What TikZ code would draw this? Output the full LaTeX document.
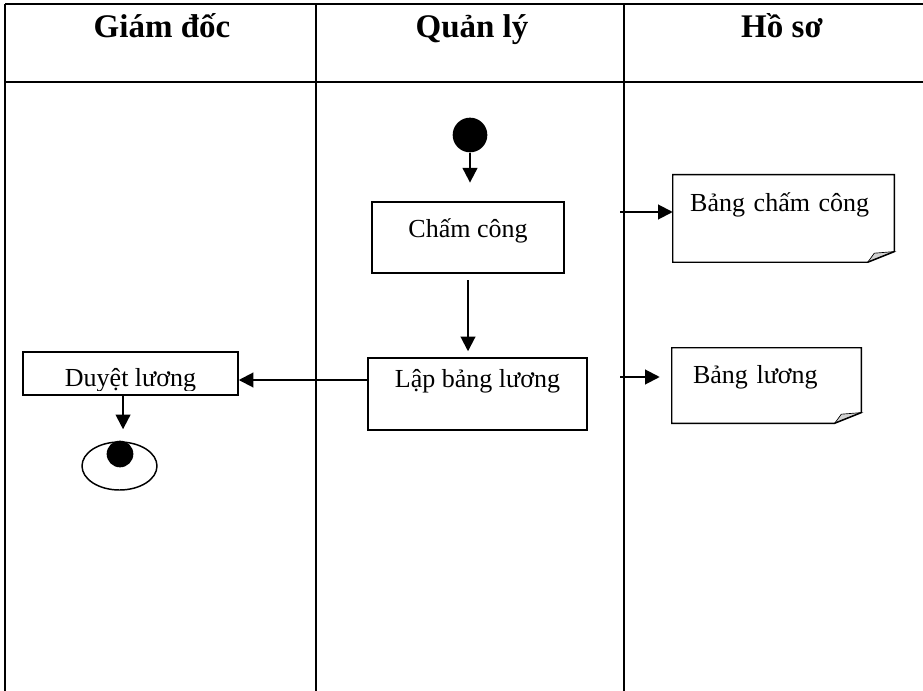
\documentclass[tikz,border=0pt]{standalone}
\usepackage{fontspec}
\setmainfont{Liberation Serif}
\usetikzlibrary{arrows.meta,shapes.geometric,calc}

\tikzset{
  lane/.style={line width=1.8pt},
  head/.style={font=\fontsize{24.75pt}{28pt}\selectfont\bfseries, anchor=base, inner sep=0pt},
  body/.style={font=\fontsize{19.5pt}{23pt}\selectfont},
  act/.style={body, draw, line width=1.1pt, rectangle, inner sep=0pt},
  doc/.style={body, rectangle, inner ysep=0pt, inner xsep=15.75pt, align=left},
  startdot/.style={circle, fill=black, inner sep=0pt, minimum size=26pt},
  enddot/.style={circle, fill=black, inner sep=0pt, minimum size=20pt},
  endring/.style={ellipse, draw, line width=1.1pt, inner sep=0pt, minimum width=56.25pt, minimum height=36pt},
  flow/.style={line width=1.5pt, -{Triangle[length=11pt,width=11pt]}},
}

% document outline with a dog-eared lower right corner
\newcommand\docsheet[1]{%
  \filldraw[fill=gray!35, line width=0.5pt]
    ([xshift=-20pt]#1.south east)
    .. controls ([xshift=-17pt,yshift=4pt]#1.south east) .. ([xshift=-15pt,yshift=6.8pt]#1.south east)
    .. controls ([xshift=-8pt,yshift=7.2pt]#1.south east) .. ([yshift=8pt]#1.south east) -- cycle;
  \draw[line width=1.1pt, line join=miter]
    (#1.north west) -- (#1.north east) -- ([yshift=8pt]#1.south east)
    -- ([xshift=-20pt]#1.south east) -- (#1.south west) -- cycle;
}

\begin{document}
\begin{tikzpicture}[x=0.75pt, y=-0.75pt]
\useasboundingbox (0,0) rectangle (923,691);

% swimlane grid
\draw[lane] (5,4) -- (923,4);
\draw[lane] (5,82) -- (923,82);
\draw[lane] (5,4) -- (5,691);
\draw[lane] (316,4) -- (316,691);
\draw[lane] (624,4) -- (624,691);

% lane titles
\node[head] (h1) at (162,38) {Giám đốc};
\node[head] (h2) at (472,38) {Quản lý};
\node[head] (h3) at (782,38) {Hồ sơ};

% activities
\node[startdot] (start) at (470,135) {};
\node[act, minimum width=144pt, minimum height=53.25pt, text height=6pt, text depth=6pt]
  (cham) at (468,237.5) {Chấm công};
\node[act, minimum width=164.25pt, minimum height=54pt, text height=4pt, text depth=14.5pt]
  (lap) at (477.5,394) {Lập bảng lương};
\node[act, minimum width=161.25pt, minimum height=32.25pt] (duyet) at (130.5,373.5) {};
\begin{scope}
  \clip (duyet.north west) rectangle ([yshift=3.75pt]duyet.south east);
  \node[body, anchor=base, inner sep=0pt] (duyettext) at ([yshift=-10.1pt]duyet.center) {Duyệt lương};
\end{scope}

% final state
\node[endring] (endring) at (119.5,466) {};
\node[enddot] (endcore) at (120,454) {};

% documents
\node[doc, text width=140pt, inner xsep=12.875pt, minimum height=65.25pt, text height=4pt, text depth=13.75pt]
  (bcc) at (783.5,218.5) {Bảng chấm công};
\docsheet{bcc}
\node[doc, text width=110.25pt, minimum height=56.25pt, text height=6pt, text depth=9.75pt]
  (bl) at (766.5,385.5) {Bảng lương};
\docsheet{bl}

% control flow
\draw[flow, shorten >=14pt] (start) -- (start |- cham.north);
\draw[flow, shorten <=5pt, shorten >=4.5pt] (cham.south) -- (cham.south |- lap.north);
\coordinate (p) at ([yshift=10.5pt]lap.west);
\draw[flow] (p) -- (duyet.east |- p);
\coordinate (q) at ([xshift=-5.6pt]duyet.south);
\draw[flow, shorten >=9pt] (q) -- (q |- endring.north);

% object flow into the records lane
\coordinate (a1) at (620,212);
\draw[flow] (a1) -- (bcc.west |- a1);
\coordinate (a2) at (620,377);
\draw[flow, shorten >=9pt] (a2) -- (bl.west |- a2);
\end{tikzpicture}
\end{document}
